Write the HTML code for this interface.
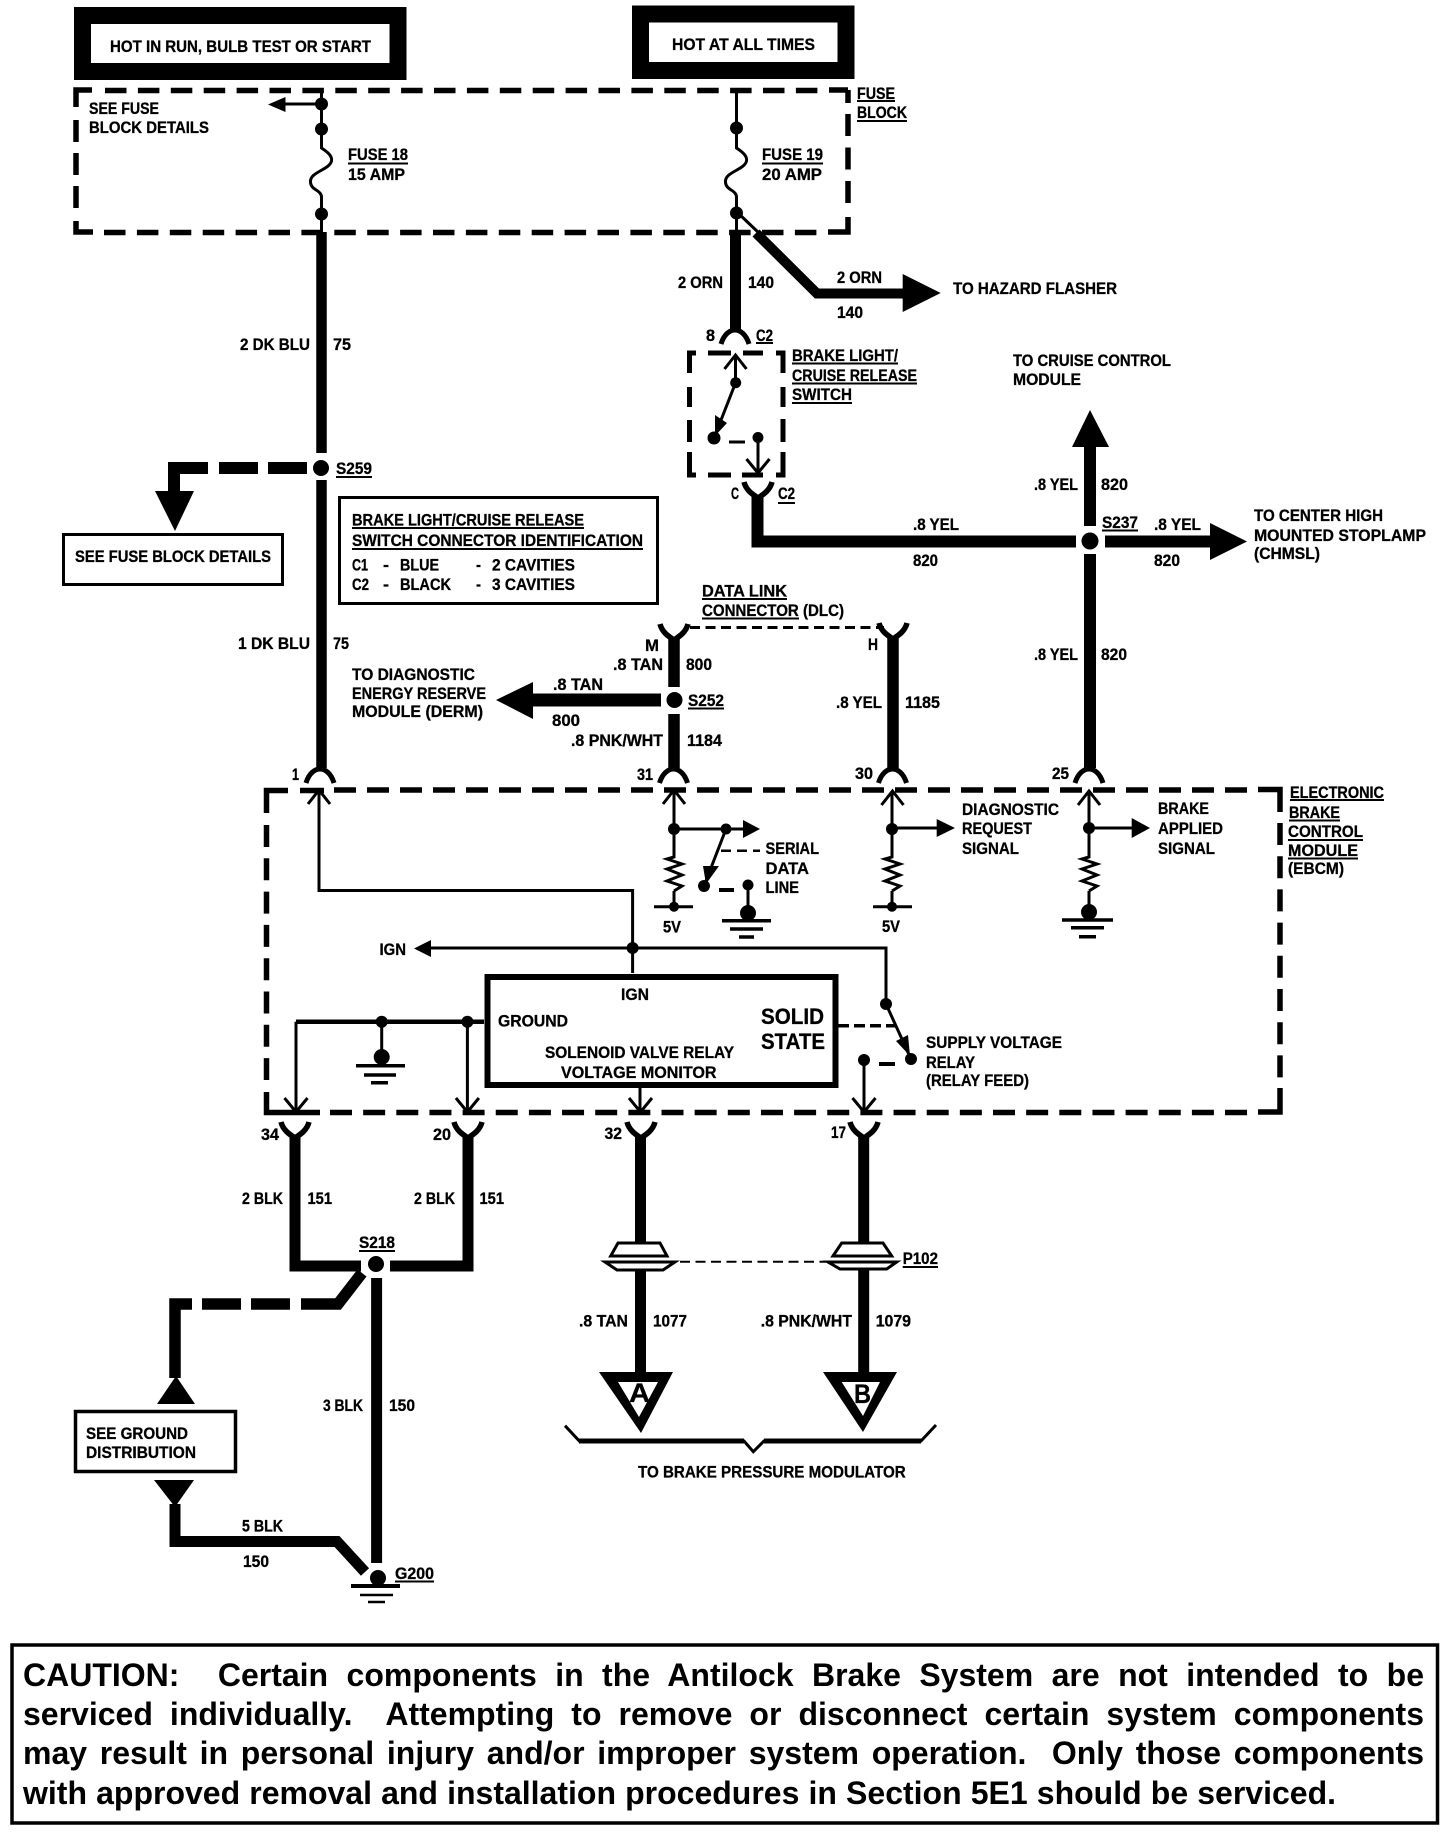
<!DOCTYPE html>
<html><head><meta charset="utf-8">
<style>
html,body{margin:0;padding:0;background:#fff;width:1456px;height:1832px;overflow:hidden}
svg{position:absolute;left:0;top:0}
svg text{font-family:"Liberation Sans",sans-serif;font-weight:700;font-size:16.5px;fill:#000;stroke:#000;stroke-width:.3px}
.c{position:absolute;left:23px;width:1401px;font:700 32px/40px "Liberation Sans",sans-serif;color:#000;text-align:justify;text-align-last:justify}
.g{display:inline-block;width:20px}
</style></head><body>
<svg width="1456" height="1832" viewBox="0 0 1456 1832" xmlns="http://www.w3.org/2000/svg">
<defs>
<path id="cup" d="M-14 12C-11 2-5-2 0-2C5-2 11 2 14 12" fill="none" stroke="#000" stroke-width="5"/>
<path id="fork" d="M-14-13C-12-5-6-1 0 3C6-1 12-5 14-13" fill="none" stroke="#000" stroke-width="5.5"/>
<path id="chu" d="M-11 14L0 0L11 14" fill="none" stroke="#000" stroke-width="3"/>
<path id="chd" d="M-11.5-14L0 0L11.5-14" fill="none" stroke="#000" stroke-width="3"/>
<path id="res" d="M0 0V2L-7 4L8 9L-7 14L8 20L-7 26L8 31L0 36" fill="none" stroke="#000" stroke-width="3"/>
<path id="fuse" d="M0 129V148C6 152 11 156 10 161C8 170-12 172-11 182C-11 190 0 190 0 197V214" fill="none" stroke="#000" stroke-width="3"/>
</defs>
<rect width="1456" height="1832" fill="#fff"/>

<!-- top boxes -->
<rect x="82.5" y="15.5" width="315.5" height="56" fill="#fff" stroke="#000" stroke-width="17"/>
<rect x="640.5" y="14" width="205.5" height="56.5" fill="#fff" stroke="#000" stroke-width="17"/>

<!-- fuse block dashed -->
<g fill="none" stroke="#000" stroke-width="5.5">
<path d="M76 107V90H92M848 90H829M848 90V103M76 221V232H93M828 232H848V217"/>
<path d="M105 90.5H820" stroke-dasharray="21.5 11.4"/>
<path d="M104 232.5H820" stroke-dasharray="21.5 11.4"/>
<path d="M76 120V210" stroke-dasharray="22 11"/>
<path d="M848 114V205" stroke-dasharray="22 11.5"/>
</g>

<!-- left fuse -->
<use href="#fuse" x="321.5"/>
<path d="M321.5 90V129M321.5 104H282" stroke="#000" stroke-width="3" fill="none"/>
<path d="M268 104.5L285.5 97V112Z"/>
<circle cx="321.5" cy="104" r="6.5"/><circle cx="321.5" cy="129" r="6.5"/><circle cx="321.5" cy="214" r="6.5"/>
<path d="M321.5 214V233" stroke="#000" stroke-width="3"/>
<path d="M321.5 232V453M321.5 480V768" stroke="#000" stroke-width="10.5" fill="none"/>
<circle cx="321" cy="468" r="8"/>
<use href="#cup" x="320" y="771"/>
<!-- dashed branch to fuse details -->
<path d="M268 468H307M219 468H258M174 492V468H208" fill="none" stroke="#000" stroke-width="12"/>
<path d="M155 491H194L175 531Z"/>

<!-- right fuse -->
<use href="#fuse" x="736.5"/>
<path d="M736.5 90V129M736.5 214V233M738 213L760 234" stroke="#000" stroke-width="3" fill="none"/>
<circle cx="736.5" cy="128" r="6.5"/><circle cx="736.5" cy="213" r="6.5"/>
<path d="M735.5 232V331" stroke="#000" stroke-width="11"/>
<use href="#cup" x="735" y="332"/>
<path d="M756 233L817 293.5H905" stroke="#000" stroke-width="10" fill="none"/>
<path d="M902.7 274L940.7 293L902.7 312Z"/>

<!-- brake switch -->
<g fill="none" stroke="#000" stroke-width="5">
<path d="M689.5 373V353H696M708 353H731M743 353H763M776 353H783V373"/>
<path d="M689.5 387V407M689.5 420V442M689.5 452V475H696M708 475H731M742 475H763M776 475H783V452M783 442V419M783 407V387"/>
</g>
<use href="#chu" x="735.5" y="355"/>
<path d="M735.5 355V383L714 438M729 442H745M758 437V472" stroke="#000" stroke-width="3" fill="none"/>
<use href="#chd" x="758" y="473"/>
<circle cx="735.7" cy="382.7" r="5.5"/><circle cx="714" cy="438" r="6.5"/><circle cx="758" cy="437.5" r="5.5"/>
<path d="M715 436L715 415L727 423Z"/>
<use href="#fork" x="758" y="495"/>

<!-- yellow wires -->
<path d="M757.5 495V541.5H1076M1105 541.5H1212" fill="none" stroke="#000" stroke-width="12"/>
<circle cx="1090" cy="541" r="8.5"/>
<path d="M1090 447V526M1090 554V768" stroke="#000" stroke-width="12" fill="none"/>
<path d="M1072 447L1090 410L1109 447Z"/>
<path d="M1210 523L1247 541.5L1210 560Z"/>
<use href="#cup" x="1089" y="771"/>

<!-- DLC -->
<use href="#fork" x="674" y="637"/>
<path d="M674 638V687M674 714V768M893 636V768" stroke="#000" stroke-width="11.5" fill="none"/>
<use href="#fork" x="893" y="636"/>
<path d="M690 627.5H884" stroke="#000" stroke-width="3" stroke-dasharray="10 5.5"/>
<circle cx="674.5" cy="700" r="8"/>
<path d="M661 700H530" stroke="#000" stroke-width="13"/>
<path d="M533 682L496 700L533 719Z"/>
<use href="#cup" x="673.5" y="771"/>
<use href="#cup" x="892.5" y="771"/>

<!-- ID box -->
<rect x="339.5" y="497.5" width="318" height="106" fill="#fff" stroke="#000" stroke-width="3"/>
<!-- see fuse block details box -->
<rect x="63.5" y="534.5" width="219" height="50" fill="#fff" stroke="#000" stroke-width="3"/>

<!-- EBCM dashed -->
<g fill="none" stroke="#000" stroke-width="5.5">
<path d="M266.5 813V790.5H288M300 790.5H324M1258 789.5H1280V812"/>
<path d="M334 790H1250" stroke-dasharray="22 11"/>
<path d="M266.5 825V1080" stroke-dasharray="22 11.3"/>
<path d="M266.5 1092V1112.5H320"/>
<path d="M1280 823V1080" stroke-dasharray="22 11.2"/>
<path d="M1280 1088V1112H1258"/>
<path d="M330 1112.5H1250" stroke-dasharray="22 11.15"/>
</g>

<!-- inner lines -->
<g fill="none" stroke="#000" stroke-width="3">
<path d="M319 790V890.5H632.6V973"/>
<path d="M426 948H886V1004L911 1059"/>
<path d="M674 790V855M674 891V906M654 906.7H693"/>
<path d="M674 829H745M726 829L704 886"/>
<path d="M748 885V912"/>
<path d="M892 792V855M892 891V906M873 906.7H912"/>
<path d="M892 828H938"/>
<path d="M1089 792V855M1089 891V910M1089 828H1133"/>
<path d="M864 1060V1112M640 1088V1112M467.4 1022V1112"/>
<path d="M381.7 1022V1055"/>
<path d="M296 1112V1021.7"/>
</g>
<path d="M296 1021.7H484" stroke="#000" stroke-width="4.5"/>
<path d="M721 850.7H760" stroke="#000" stroke-width="2.5" stroke-dasharray="10 6"/>
<path d="M719 890H734M879 1064H895" stroke="#000" stroke-width="4"/>
<path d="M838 1025.7H895" stroke="#000" stroke-width="3.5" stroke-dasharray="11 5"/>
<use href="#chu" x="319" y="790"/><use href="#chu" x="674" y="790"/><use href="#chu" x="892.5" y="791"/><use href="#chu" x="1089" y="791"/>
<use href="#chd" x="296" y="1112"/><use href="#chd" x="467.4" y="1112"/><use href="#chd" x="640.5" y="1112"/><use href="#chd" x="864" y="1112"/>
<use href="#res" x="674" y="855"/><use href="#res" x="892" y="855"/><use href="#res" x="1089" y="855"/>
<circle cx="632.6" cy="948" r="6"/><path d="M414 948.5L431 940V957Z"/>
<circle cx="886" cy="1004" r="6"/><circle cx="911" cy="1059" r="6"/><circle cx="864" cy="1060" r="6"/>
<path d="M910 1056L896 1041L908 1035Z"/>
<circle cx="674" cy="829" r="6"/><circle cx="726" cy="829" r="5.5"/><circle cx="704" cy="886" r="6"/><circle cx="748" cy="885" r="5.5"/><circle cx="748" cy="913" r="8"/><circle cx="674" cy="906.7" r="5"/>
<path d="M743 820L760 829L743 838Z"/>
<path d="M706 884L703 866L719 866Z"/>
<circle cx="892" cy="829" r="6"/><circle cx="892" cy="906.7" r="5"/>
<path d="M936.7 819L955 828L936.7 837Z"/>
<circle cx="1089" cy="828" r="6"/><circle cx="1089" cy="912" r="8"/>
<path d="M1131.7 818L1150 828L1131.7 838Z"/>
<path d="M722 920.7H771M730 929H763M739 937H754" stroke="#000" stroke-width="3.5"/>
<path d="M1062 920H1113M1071 927.7H1104M1079 936.7H1096" stroke="#000" stroke-width="3.5"/>
<circle cx="381.7" cy="1021.7" r="6"/><circle cx="467.4" cy="1021.7" r="6"/><circle cx="381.7" cy="1057" r="8"/>
<path d="M356 1065.7H405M364 1075H396M371 1082.7H388" stroke="#000" stroke-width="3.5"/>
<rect x="487.5" y="977" width="348" height="108" fill="#fff" stroke="#000" stroke-width="6"/>

<!-- bottom wiring -->
<use href="#fork" x="295" y="1135"/><use href="#fork" x="468" y="1135"/><use href="#fork" x="641" y="1135"/><use href="#fork" x="864" y="1135"/>
<path d="M295 1136V1266H361M390 1266H468V1136" fill="none" stroke="#000" stroke-width="11"/>
<circle cx="376" cy="1264" r="8"/>
<path d="M362 1273L338 1304H301M290 1304H251M241 1304H202M192 1304H175V1378" fill="none" stroke="#000" stroke-width="11.5"/>
<path d="M157 1404H195L176 1376Z"/>
<rect x="75.5" y="1411.5" width="160" height="60" fill="#fff" stroke="#000" stroke-width="3.5"/>
<path d="M154 1480H194L175 1507Z"/>
<path d="M175 1504V1541.5H337L365 1572" fill="none" stroke="#000" stroke-width="11"/>
<path d="M376.6 1278V1563" stroke="#000" stroke-width="11"/>
<circle cx="378" cy="1578" r="8"/>
<path d="M351 1586H400" stroke="#000" stroke-width="4"/>
<path d="M360 1595H393M368 1602H385" stroke="#000" stroke-width="2.5"/>

<path d="M640.5 1136V1244M640.5 1270V1374M863.7 1136V1244M863.7 1270V1374" stroke="#000" stroke-width="11" fill="none"/>
<g fill="#fff" stroke="#000" stroke-width="3">
<path d="M610.7 1256L618 1243H660L667 1256Z"/><path d="M605 1262H675L663 1270H617Z"/>
<path d="M833 1256L841.7 1243H883L891.7 1256Z"/><path d="M828 1262H896.7L886.7 1269H840Z"/>
</g>
<path d="M680 1261.7H828" stroke="#000" stroke-width="2" stroke-dasharray="10 5.5"/>
<path fill-rule="evenodd" d="M599 1372H673L641 1433ZM618 1382L639 1417L658 1382Z"/>
<path fill-rule="evenodd" d="M823 1372H897L863 1432ZM841.7 1382L863 1416L880 1382Z"/>
<path d="M565 1425.7L579.3 1441H744L753.3 1451.7L764 1441H921L936 1425" fill="none" stroke="#000" stroke-width="3"/>
<path d="M579 1441H744M764 1441H921" stroke="#000" stroke-width="5"/>

<!-- caution box -->
<rect x="12" y="1645" width="1425.5" height="178" fill="none" stroke="#000" stroke-width="3.5"/>

<!-- underlines -->
<path d="M348 163.5H408M762 163.5H823M857 101H895M857 121H907M792 363.5H898M792 383.5H917M792 403H852M756 343H773M778 503H795M352 528H584M352 549H643M702 599H787M702 618.5H799M1102 530.5H1138M688 708.5H724M1290 800H1384M1289 820.5H1340M1288 840H1363M1288 858.5H1358M359 1251H395M395 1581.5H434M902.7 1267H938M336 477H372" fill="none" stroke="#000" stroke-width="2"/>

<!-- labels -->
<text x="110" y="52" textLength="261" lengthAdjust="spacingAndGlyphs">HOT IN RUN, BULB TEST OR START</text>
<text x="672" y="50" textLength="143" lengthAdjust="spacingAndGlyphs">HOT AT ALL TIMES</text>
<text x="89" y="114" textLength="70" lengthAdjust="spacingAndGlyphs">SEE FUSE</text>
<text x="89" y="133" textLength="120" lengthAdjust="spacingAndGlyphs">BLOCK DETAILS</text>
<text x="348" y="160" textLength="60" lengthAdjust="spacingAndGlyphs">FUSE 18</text>
<text x="348" y="180" textLength="57" lengthAdjust="spacingAndGlyphs">15 AMP</text>
<text x="762" y="160" textLength="61" lengthAdjust="spacingAndGlyphs">FUSE 19</text>
<text x="762" y="180" textLength="60" lengthAdjust="spacingAndGlyphs">20 AMP</text>
<text x="857" y="99" textLength="38" lengthAdjust="spacingAndGlyphs">FUSE</text>
<text x="857" y="118" textLength="50" lengthAdjust="spacingAndGlyphs">BLOCK</text>
<text x="678" y="288" textLength="45" lengthAdjust="spacingAndGlyphs">2 ORN</text>
<text x="748" y="288" textLength="26" lengthAdjust="spacingAndGlyphs">140</text>
<text x="837" y="283" textLength="45" lengthAdjust="spacingAndGlyphs">2 ORN</text>
<text x="837" y="318" textLength="26" lengthAdjust="spacingAndGlyphs">140</text>
<text x="953" y="294" textLength="164" lengthAdjust="spacingAndGlyphs">TO HAZARD FLASHER</text>
<text x="706" y="341" textLength="9" lengthAdjust="spacingAndGlyphs">8</text>
<text x="756" y="341" textLength="17" lengthAdjust="spacingAndGlyphs">C2</text>
<text x="792" y="361" textLength="106" lengthAdjust="spacingAndGlyphs">BRAKE LIGHT/</text>
<text x="792" y="381" textLength="125" lengthAdjust="spacingAndGlyphs">CRUISE RELEASE</text>
<text x="792" y="400" textLength="60" lengthAdjust="spacingAndGlyphs">SWITCH</text>
<text x="731" y="499" textLength="8" lengthAdjust="spacingAndGlyphs">C</text>
<text x="778" y="499" textLength="17" lengthAdjust="spacingAndGlyphs">C2</text>
<text x="1013" y="366" textLength="158" lengthAdjust="spacingAndGlyphs">TO CRUISE CONTROL</text>
<text x="1013" y="385" textLength="68" lengthAdjust="spacingAndGlyphs">MODULE</text>
<text x="1034" y="490" textLength="44" lengthAdjust="spacingAndGlyphs">.8 YEL</text>
<text x="1101" y="490" textLength="27" lengthAdjust="spacingAndGlyphs">820</text>
<text x="1102" y="528" textLength="36" lengthAdjust="spacingAndGlyphs">S237</text>
<text x="1154" y="530" textLength="47" lengthAdjust="spacingAndGlyphs">.8 YEL</text>
<text x="1154" y="566" textLength="26" lengthAdjust="spacingAndGlyphs">820</text>
<text x="913" y="530" textLength="46" lengthAdjust="spacingAndGlyphs">.8 YEL</text>
<text x="913" y="566" textLength="25" lengthAdjust="spacingAndGlyphs">820</text>
<text x="1254" y="521" textLength="129" lengthAdjust="spacingAndGlyphs">TO CENTER HIGH</text>
<text x="1254" y="541" textLength="172" lengthAdjust="spacingAndGlyphs">MOUNTED STOPLAMP</text>
<text x="1254" y="559" textLength="66" lengthAdjust="spacingAndGlyphs">(CHMSL)</text>
<text x="1034" y="660" textLength="44" lengthAdjust="spacingAndGlyphs">.8 YEL</text>
<text x="1101" y="660" textLength="26" lengthAdjust="spacingAndGlyphs">820</text>
<text x="836" y="708" textLength="46" lengthAdjust="spacingAndGlyphs">.8 YEL</text>
<text x="905" y="708" textLength="35" lengthAdjust="spacingAndGlyphs">1185</text>
<text x="868" y="650" textLength="10" lengthAdjust="spacingAndGlyphs">H</text>
<text x="702" y="596.5" textLength="85" lengthAdjust="spacingAndGlyphs">DATA LINK</text>
<text x="702" y="616" textLength="142" lengthAdjust="spacingAndGlyphs">CONNECTOR (DLC)</text>
<text x="645" y="651" textLength="14" lengthAdjust="spacingAndGlyphs">M</text>
<text x="613" y="670" textLength="50" lengthAdjust="spacingAndGlyphs">.8 TAN</text>
<text x="686" y="670" textLength="26" lengthAdjust="spacingAndGlyphs">800</text>
<text x="553" y="690" textLength="50" lengthAdjust="spacingAndGlyphs">.8 TAN</text>
<text x="552" y="726" textLength="28" lengthAdjust="spacingAndGlyphs">800</text>
<text x="688" y="706" textLength="36" lengthAdjust="spacingAndGlyphs">S252</text>
<text x="571" y="746" textLength="92" lengthAdjust="spacingAndGlyphs">.8 PNK/WHT</text>
<text x="687" y="746" textLength="35" lengthAdjust="spacingAndGlyphs">1184</text>
<text x="637" y="780" textLength="16" lengthAdjust="spacingAndGlyphs">31</text>
<text x="292" y="780" textLength="7" lengthAdjust="spacingAndGlyphs">1</text>
<text x="855" y="779" textLength="18" lengthAdjust="spacingAndGlyphs">30</text>
<text x="1052" y="779" textLength="17" lengthAdjust="spacingAndGlyphs">25</text>
<text x="352" y="680" textLength="123" lengthAdjust="spacingAndGlyphs">TO DIAGNOSTIC</text>
<text x="352" y="699" textLength="134" lengthAdjust="spacingAndGlyphs">ENERGY RESERVE</text>
<text x="352" y="717" textLength="131" lengthAdjust="spacingAndGlyphs">MODULE (DERM)</text>
<text x="240" y="350" textLength="70" lengthAdjust="spacingAndGlyphs">2 DK BLU</text>
<text x="333" y="350" textLength="18" lengthAdjust="spacingAndGlyphs">75</text>
<text x="336" y="474" textLength="36" lengthAdjust="spacingAndGlyphs">S259</text>
<text x="238" y="649" textLength="72" lengthAdjust="spacingAndGlyphs">1 DK BLU</text>
<text x="333" y="649" textLength="16" lengthAdjust="spacingAndGlyphs">75</text>
<text x="75" y="562" textLength="196" lengthAdjust="spacingAndGlyphs">SEE FUSE BLOCK DETAILS</text>
<text x="352" y="525.5" textLength="232" lengthAdjust="spacingAndGlyphs">BRAKE LIGHT/CRUISE RELEASE</text>
<text x="352" y="546" textLength="291" lengthAdjust="spacingAndGlyphs">SWITCH CONNECTOR IDENTIFICATION</text>
<text x="352" y="570.5" textLength="16" lengthAdjust="spacingAndGlyphs">C1</text>
<text x="383" y="570.5" textLength="6" lengthAdjust="spacingAndGlyphs">-</text>
<text x="400" y="570.5" textLength="39" lengthAdjust="spacingAndGlyphs">BLUE</text>
<text x="476" y="570.5" textLength="5" lengthAdjust="spacingAndGlyphs">-</text>
<text x="492" y="570.5" textLength="83" lengthAdjust="spacingAndGlyphs">2 CAVITIES</text>
<text x="352" y="590" textLength="17" lengthAdjust="spacingAndGlyphs">C2</text>
<text x="383" y="590" textLength="6" lengthAdjust="spacingAndGlyphs">-</text>
<text x="400" y="590" textLength="51" lengthAdjust="spacingAndGlyphs">BLACK</text>
<text x="476" y="590" textLength="5" lengthAdjust="spacingAndGlyphs">-</text>
<text x="492" y="590" textLength="83" lengthAdjust="spacingAndGlyphs">3 CAVITIES</text>
<text x="765.5" y="854" textLength="53.5" lengthAdjust="spacingAndGlyphs">SERIAL</text>
<text x="765.5" y="874" textLength="43.5" lengthAdjust="spacingAndGlyphs">DATA</text>
<text x="765.5" y="893" textLength="33.5" lengthAdjust="spacingAndGlyphs">LINE</text>
<text x="663" y="932.7" textLength="18" lengthAdjust="spacingAndGlyphs">5V</text>
<text x="882" y="932" textLength="18" lengthAdjust="spacingAndGlyphs">5V</text>
<text x="962" y="815" textLength="97" lengthAdjust="spacingAndGlyphs">DIAGNOSTIC</text>
<text x="962" y="834" textLength="70" lengthAdjust="spacingAndGlyphs">REQUEST</text>
<text x="962" y="854" textLength="57" lengthAdjust="spacingAndGlyphs">SIGNAL</text>
<text x="1158" y="814" textLength="51" lengthAdjust="spacingAndGlyphs">BRAKE</text>
<text x="1158" y="834" textLength="65" lengthAdjust="spacingAndGlyphs">APPLIED</text>
<text x="1158" y="854" textLength="57" lengthAdjust="spacingAndGlyphs">SIGNAL</text>
<text x="1290" y="798" textLength="94" lengthAdjust="spacingAndGlyphs">ELECTRONIC</text>
<text x="1289" y="818" textLength="51" lengthAdjust="spacingAndGlyphs">BRAKE</text>
<text x="1288" y="837" textLength="75" lengthAdjust="spacingAndGlyphs">CONTROL</text>
<text x="1288" y="856" textLength="70" lengthAdjust="spacingAndGlyphs">MODULE</text>
<text x="1288" y="874" textLength="56" lengthAdjust="spacingAndGlyphs">(EBCM)</text>
<text x="379.5" y="955" textLength="26.5" lengthAdjust="spacingAndGlyphs">IGN</text>
<text x="621" y="1000" textLength="28" lengthAdjust="spacingAndGlyphs">IGN</text>
<text x="498" y="1026.7" textLength="70" lengthAdjust="spacingAndGlyphs">GROUND</text>
<text x="761" y="1024" textLength="63" lengthAdjust="spacingAndGlyphs" style="font-size:22px">SOLID</text>
<text x="761" y="1049" textLength="64" lengthAdjust="spacingAndGlyphs" style="font-size:22px">STATE</text>
<text x="545" y="1058" textLength="189" lengthAdjust="spacingAndGlyphs">SOLENOID VALVE RELAY</text>
<text x="561" y="1078" textLength="155.5" lengthAdjust="spacingAndGlyphs">VOLTAGE MONITOR</text>
<text x="926" y="1048" textLength="136" lengthAdjust="spacingAndGlyphs">SUPPLY VOLTAGE</text>
<text x="926" y="1068" textLength="49" lengthAdjust="spacingAndGlyphs">RELAY</text>
<text x="926" y="1086" textLength="103" lengthAdjust="spacingAndGlyphs">(RELAY FEED)</text>
<text x="261" y="1140" textLength="18" lengthAdjust="spacingAndGlyphs">34</text>
<text x="433" y="1140" textLength="18" lengthAdjust="spacingAndGlyphs">20</text>
<text x="604.5" y="1139" textLength="17.5" lengthAdjust="spacingAndGlyphs">32</text>
<text x="831" y="1138" textLength="15" lengthAdjust="spacingAndGlyphs">17</text>
<text x="242" y="1204" textLength="41" lengthAdjust="spacingAndGlyphs">2 BLK</text>
<text x="307.5" y="1204" textLength="24.5" lengthAdjust="spacingAndGlyphs">151</text>
<text x="414" y="1204" textLength="41" lengthAdjust="spacingAndGlyphs">2 BLK</text>
<text x="479.5" y="1204" textLength="24.5" lengthAdjust="spacingAndGlyphs">151</text>
<text x="359" y="1248" textLength="36" lengthAdjust="spacingAndGlyphs">S218</text>
<text x="86" y="1439" textLength="102" lengthAdjust="spacingAndGlyphs">SEE GROUND</text>
<text x="86" y="1458" textLength="110" lengthAdjust="spacingAndGlyphs">DISTRIBUTION</text>
<text x="242" y="1531.7" textLength="41" lengthAdjust="spacingAndGlyphs">5 BLK</text>
<text x="243" y="1567" textLength="26" lengthAdjust="spacingAndGlyphs">150</text>
<text x="323" y="1411" textLength="40" lengthAdjust="spacingAndGlyphs">3 BLK</text>
<text x="389" y="1411" textLength="26" lengthAdjust="spacingAndGlyphs">150</text>
<text x="395" y="1579" textLength="39" lengthAdjust="spacingAndGlyphs">G200</text>
<text x="902.7" y="1264" textLength="35.3" lengthAdjust="spacingAndGlyphs">P102</text>
<text x="579" y="1326.7" textLength="49" lengthAdjust="spacingAndGlyphs">.8 TAN</text>
<text x="653" y="1326.7" textLength="34" lengthAdjust="spacingAndGlyphs">1077</text>
<text x="760.7" y="1326.7" textLength="91.3" lengthAdjust="spacingAndGlyphs">.8 PNK/WHT</text>
<text x="875.7" y="1326.7" textLength="35.3" lengthAdjust="spacingAndGlyphs">1079</text>
<text x="638" y="1477.7" textLength="267.7" lengthAdjust="spacingAndGlyphs">TO BRAKE PRESSURE MODULATOR</text>
<text x="629" y="1402" textLength="21" lengthAdjust="spacingAndGlyphs" style="font-size:27px">A</text>
<text x="854" y="1403" textLength="17" lengthAdjust="spacingAndGlyphs" style="font-size:27px">B</text>
</svg>
<div class="c" style="top:1655px">CAUTION:<span class="g"></span> Certain components in the Antilock Brake System are not intended to be</div>
<div class="c" style="top:1694px">serviced individually.&nbsp; Attempting to remove or disconnect certain system components</div>
<div class="c" style="top:1733px">may result in personal injury and/or improper system operation.&nbsp; Only those components</div>
<div class="c" style="top:1773px;width:1313px">with approved removal and installation procedures in Section 5E1 should be serviced.</div>
</body></html>
